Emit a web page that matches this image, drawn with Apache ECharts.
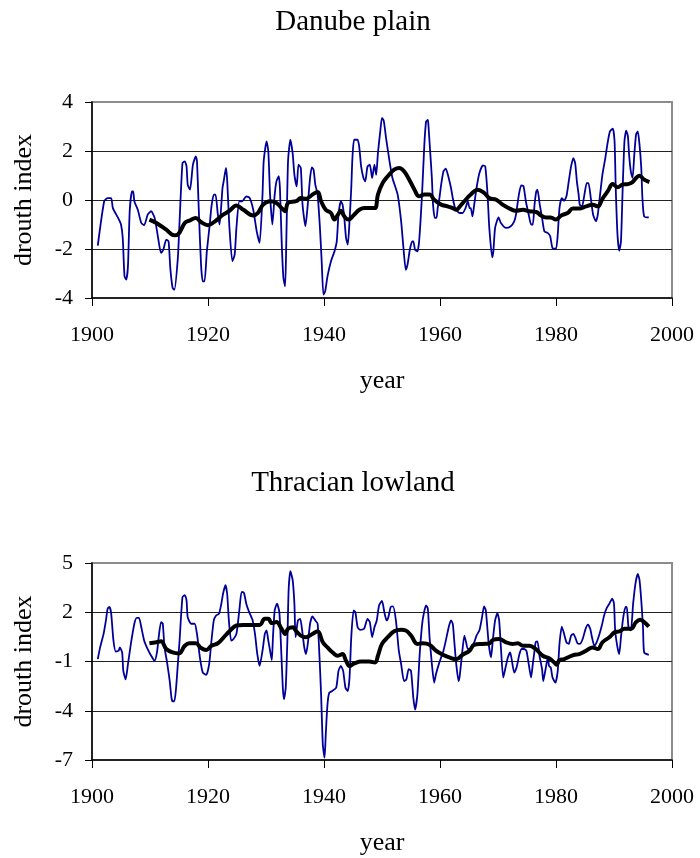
<!DOCTYPE html>
<html lang="en">

<head>
    <meta charset="UTF-8">
    <title>Drouth index</title>
    <script src="https://cdn.jsdelivr.net/npm/echarts@6/dist/echarts.min.js" charset="utf-8"></script>
    <style>
        body { margin: 0; background: #fff; }
    </style>
</head>

<body>

    <div id="main" style="width: 700px;height:858px;"></div>
    <script type="text/javascript">

        // axis ticks
        var yearTicks = [1900, 2000, 20];
        var danubeTicks = [-4, 4, 2];
        var thraceTicks = [-7, 5, 3];

        // Danube plain - drouth index (blue) and smoothed curve (black)
        var danubeIndex = [
            [1901.0,-1.86],[1902.1,-0.05],[1902.7,0.08],[1903.3,0.08],[1903.6,-0.33],[1904.5,-0.73],[1905.0,-1.0],[1905.3,-1.55],
            [1905.6,-3.1],[1905.9,-3.25],[1906.2,-2.7],[1906.5,-0.46],[1906.9,0.35],[1907.1,0.35],[1907.3,-0.05],[1907.9,-0.4],
            [1908.5,-0.94],[1909.0,-1.03],[1909.6,-0.6],[1910.2,-0.46],[1910.8,-0.73],[1911.4,-1.55],[1911.9,-2.16],[1912.3,-2.03],
            [1912.8,-1.62],[1913.2,-1.69],[1913.5,-2.78],[1913.9,-3.59],[1914.2,-3.66],[1914.8,-2.37],[1915.1,-0.87],[1915.6,1.51],
            [1916.0,1.58],[1916.3,1.37],[1916.5,0.63],[1916.9,0.42],[1917.4,1.44],[1917.9,1.78],[1918.1,1.58],[1918.4,-0.33],
            [1918.8,-2.64],[1919.1,-3.32],[1919.4,-3.32],[1919.8,-2.1],[1920.3,-1.0],[1920.6,-0.26],[1921.0,0.22],[1921.3,0.22],
            [1921.7,-0.6],[1922.0,-1.0],[1922.5,0.49],[1922.7,0.76],[1923.1,1.31],[1923.3,0.83],[1923.7,-1.14],[1924.2,-2.5],
            [1924.6,-2.23],[1924.9,-1.14],[1925.4,-0.05],[1925.9,-0.05],[1926.6,0.15],[1927.2,0.08],[1927.8,-0.4],[1928.4,-1.28],
            [1928.9,-1.75],[1929.4,0.22],[1929.6,1.58],[1930.1,2.39],[1930.4,1.99],[1930.7,0.22],[1931.1,-1.0],[1931.5,0.22],
            [1931.8,0.76],[1932.2,0.97],[1932.4,0.49],[1932.7,-1.69],[1933.0,-3.18],[1933.3,-3.52],[1933.5,-1.69],[1933.8,1.58],
            [1934.2,2.46],[1934.6,1.9],[1934.9,1.03],[1935.3,0.56],[1935.6,1.44],[1936.0,1.31],[1936.3,-0.19],[1936.8,-1.07],
            [1937.2,-0.19],[1937.6,0.9],[1937.9,1.33],[1938.2,1.24],[1938.5,0.63],[1938.9,0.22],[1939.3,-1.14],[1939.6,-2.5],
            [1939.9,-3.86],[1940.2,-3.73],[1940.6,-3.12],[1941.2,-2.5],[1941.8,-2.1],[1942.2,-1.69],[1942.5,-0.6],[1942.9,-0.05],
            [1943.2,-0.19],[1943.5,-0.73],[1943.8,-1.55],[1944.1,-1.82],[1944.4,-0.87],[1944.7,0.49],[1944.9,1.71],[1945.2,2.46],
            [1945.8,2.46],[1946.1,2.12],[1946.4,1.37],[1946.8,0.9],[1947.1,0.76],[1947.5,1.37],[1947.9,1.44],[1948.3,0.9],
            [1948.7,1.44],[1949.0,1.03],[1949.3,1.92],[1949.7,2.8],[1950.0,3.35],[1950.3,3.24],[1950.7,2.53],[1951.3,1.58],
            [1951.8,0.9],[1952.7,0.22],[1953.3,-0.87],[1953.7,-1.96],[1954.1,-2.85],[1954.4,-2.64],[1954.8,-2.03],[1955.2,-1.69],
            [1955.4,-1.69],[1955.7,-2.03],[1956.1,-2.1],[1956.4,-1.69],[1956.9,0.22],[1957.3,2.26],[1957.6,3.2],[1957.9,3.27],
            [1958.0,3.07],[1958.3,1.99],[1958.6,0.9],[1958.8,-0.19],[1959.1,-0.73],[1959.4,-0.73],[1959.6,-0.33],[1959.9,0.08],
            [1960.2,0.63],[1960.6,1.17],[1961.0,1.28],[1961.5,0.9],[1961.9,0.49],[1962.2,0.08],[1962.6,-0.33],[1963.0,-0.46],
            [1963.4,-0.53],[1963.9,-0.53],[1964.4,-0.33],[1964.8,-0.05],[1965.1,-0.33],[1965.3,-0.33],[1965.6,-0.67],[1965.9,-0.19],
            [1966.3,0.49],[1966.8,1.1],[1967.4,1.41],[1967.8,1.37],[1968.2,0.22],[1968.5,-1.14],[1969.0,-2.34],[1969.2,-2.1],
            [1969.5,-1.14],[1970.1,-0.71],[1970.5,-0.94],[1971.4,-1.14],[1972.2,-1.07],[1972.8,-0.87],[1973.1,-0.6],[1973.6,0.22],
            [1974.0,0.6],[1974.4,0.56],[1974.8,-0.05],[1975.3,-0.6],[1975.7,-1.0],[1976.0,-1.0],[1976.3,-0.19],[1976.6,0.35],
            [1976.8,0.42],[1977.2,-0.19],[1977.6,-0.73],[1978.0,-1.28],[1978.6,-1.35],[1979.0,-1.48],[1979.4,-1.96],[1980.0,-1.99],
            [1980.3,-1.41],[1980.6,-0.33],[1981.0,0.08],[1981.4,-0.03],[1981.8,0.15],[1982.2,0.76],[1982.6,1.37],[1983.0,1.71],
            [1983.3,1.51],[1983.6,0.76],[1983.9,0.22],[1984.1,-0.19],[1984.5,-0.26],[1984.9,0.22],[1985.3,0.69],[1985.6,0.69],
            [1986.0,0.08],[1986.4,-0.6],[1986.9,-0.87],[1987.2,-0.6],[1987.6,0.22],[1988.0,1.03],[1988.5,1.71],[1988.9,2.33],
            [1989.3,2.8],[1989.8,2.91],[1990.1,2.39],[1990.3,0.49],[1990.6,-1.41],[1990.9,-2.07],[1991.2,-1.69],[1991.5,0.49],
            [1991.8,2.39],[1992.1,2.83],[1992.4,2.6],[1992.6,1.85],[1992.9,1.17],[1993.2,0.9],[1993.5,1.85],[1993.8,2.67],
            [1994.1,2.8],[1994.4,2.26],[1994.7,1.31],[1994.9,0.08],[1995.2,-0.67],[1996.0,-0.71]
        ];
        var danubeSmooth = [
            [1909.9,-0.8],[1911.1,-0.94],[1912.8,-1.21],[1914.2,-1.44],[1914.8,-1.41],[1916.0,-0.94],[1916.8,-0.84],[1917.9,-0.73],
            [1918.8,-0.9],[1920.0,-1.03],[1921.2,-0.87],[1922.6,-0.6],[1923.7,-0.44],[1924.9,-0.22],[1926.1,-0.4],[1927.8,-0.63],
            [1928.6,-0.53],[1929.5,-0.19],[1930.7,-0.05],[1931.8,-0.12],[1932.7,-0.33],[1933.3,-0.46],[1933.8,-0.12],[1935.2,-0.05],
            [1936.0,0.08],[1936.9,0.05],[1938.0,0.22],[1938.9,0.33],[1939.5,-0.05],[1940.3,-0.4],[1941.2,-0.53],[1941.8,-0.8],
            [1942.4,-0.6],[1942.9,-0.44],[1943.5,-0.67],[1944.2,-0.8],[1945.2,-0.6],[1946.1,-0.4],[1947.0,-0.33],[1948.1,-0.33],
            [1948.8,-0.33],[1949.3,0.22],[1950.1,0.69],[1951.0,0.97],[1952.1,1.24],[1953.0,1.31],[1953.8,1.17],[1954.7,0.83],
            [1955.6,0.42],[1956.4,0.15],[1957.3,0.22],[1958.2,0.22],[1959.0,0.01],[1960.2,-0.19],[1961.3,-0.26],[1962.2,-0.33],
            [1962.8,-0.4],[1963.3,-0.3],[1964.2,-0.05],[1965.3,0.22],[1966.5,0.42],[1967.6,0.29],[1968.5,0.08],[1969.7,0.01],
            [1970.8,-0.19],[1972.0,-0.35],[1973.1,-0.44],[1974.3,-0.4],[1975.4,-0.46],[1976.6,-0.49],[1977.4,-0.63],[1978.3,-0.71],
            [1979.1,-0.71],[1980.0,-0.8],[1980.9,-0.63],[1982.0,-0.53],[1982.9,-0.35],[1984.0,-0.35],[1985.2,-0.26],[1986.3,-0.19],
            [1987.2,-0.26],[1988.0,0.05],[1988.9,0.35],[1989.8,0.65],[1990.6,0.52],[1991.5,0.63],[1992.4,0.65],[1993.2,0.73],
            [1993.8,0.9],[1994.4,0.99],[1995.2,0.83],[1996.1,0.73]
        ];

        // Thracian lowland
        var thraceIndex = [
            [1901.0,-0.86],[1901.4,-0.14],[1902.0,0.68],[1902.4,1.5],[1902.7,2.22],[1903.0,2.32],[1903.3,1.95],[1903.7,0.27],
            [1904.1,-0.39],[1904.6,-0.34],[1904.8,-0.14],[1905.2,-0.45],[1905.4,-1.57],[1905.8,-2.09],[1906.2,-1.16],[1906.7,0.07],
            [1907.3,1.3],[1907.7,1.66],[1908.1,1.66],[1908.5,1.09],[1909.0,0.27],[1909.6,-0.24],[1910.2,-0.65],[1910.8,-0.96],
            [1911.2,-0.45],[1911.5,0.48],[1911.9,1.4],[1912.2,1.3],[1912.5,-0.14],[1912.9,-0.96],[1913.4,-2.19],[1913.7,-3.21],
            [1913.9,-3.42],[1914.2,-3.42],[1914.5,-2.6],[1914.8,-1.16],[1915.1,0.27],[1915.6,2.93],[1916.0,3.04],[1916.3,2.73],
            [1916.5,1.7],[1917.1,1.3],[1917.7,1.3],[1918.1,0.68],[1918.6,-0.75],[1919.1,-1.68],[1919.7,-1.82],[1920.2,-1.16],
            [1920.6,0.27],[1921.0,1.5],[1921.4,1.8],[1921.9,1.91],[1922.3,2.52],[1922.6,3.14],[1923.0,3.65],[1923.3,3.14],
            [1923.6,1.5],[1924.0,0.27],[1924.4,0.37],[1924.9,0.68],[1925.4,2.11],[1925.8,3.24],[1926.2,3.18],[1926.6,2.52],
            [1927.1,2.01],[1927.7,1.5],[1928.1,0.68],[1928.5,-0.55],[1928.9,-1.27],[1929.4,-0.34],[1929.8,0.68],[1930.1,0.89],
            [1930.4,0.27],[1930.7,-0.34],[1931.0,-0.92],[1931.2,0.48],[1931.5,2.11],[1931.9,2.52],[1932.3,2.01],[1932.6,-0.14],
            [1932.9,-2.6],[1933.1,-3.31],[1933.4,-2.6],[1933.7,0.48],[1933.9,3.34],[1934.2,4.5],[1934.6,3.96],[1934.9,2.5],
            [1935.1,0.48],[1935.5,1.5],[1935.9,1.6],[1936.2,0.99],[1936.6,-0.14],[1936.9,-0.55],[1937.2,0.07],[1937.6,1.3],
            [1938.0,1.75],[1938.5,1.5],[1938.9,1.3],[1939.2,-0.55],[1939.5,-3.01],[1939.8,-6.08],[1940.1,-6.86],[1940.3,-5.47],
            [1940.6,-3.62],[1940.9,-2.91],[1941.4,-2.8],[1942.1,-2.6],[1942.5,-1.57],[1942.9,-1.27],[1943.3,-1.57],[1943.7,-2.6],
            [1944.1,-2.8],[1944.4,-1.98],[1944.7,0.48],[1945.1,2.11],[1945.4,2.01],[1945.8,1.09],[1946.2,0.93],[1946.9,0.99],
            [1947.5,1.6],[1947.9,1.4],[1948.3,0.48],[1948.7,1.09],[1949.1,1.5],[1949.5,2.42],[1950.0,2.69],[1950.4,2.01],
            [1950.8,1.5],[1951.1,1.7],[1951.5,2.32],[1951.9,2.36],[1952.4,1.5],[1952.9,-0.34],[1953.3,-1.16],[1953.8,-2.19],
            [1954.2,-2.09],[1954.6,-1.47],[1955.0,-1.57],[1955.4,-3.21],[1955.7,-3.93],[1956.1,-3.01],[1956.5,-0.55],[1957.0,1.5],
            [1957.6,2.42],[1957.9,2.22],[1958.2,0.48],[1958.6,-1.16],[1959.0,-2.29],[1959.3,-1.78],[1959.8,-1.16],[1960.2,-0.75],
            [1960.6,-0.34],[1961.0,0.27],[1961.5,1.09],[1961.9,1.5],[1962.2,1.3],[1962.5,0.07],[1962.8,-1.16],[1963.2,-2.19],
            [1963.4,-1.88],[1963.8,-0.55],[1964.2,0.58],[1964.5,0.17],[1964.8,-0.24],[1965.2,-0.24],[1965.5,-0.14],[1965.9,0.17],
            [1966.3,0.58],[1966.8,0.9],[1967.2,1.6],[1967.6,2.36],[1967.9,2.11],[1968.4,0.07],[1968.8,-0.75],[1969.1,0.27],
            [1969.5,1.5],[1969.9,1.95],[1970.2,1.5],[1970.5,-0.14],[1970.9,-1.98],[1971.3,-1.37],[1971.7,-0.75],[1972.1,-0.45],
            [1972.4,-0.96],[1972.8,-1.68],[1973.2,-1.37],[1973.7,-0.55],[1974.1,-0.24],[1974.5,-0.24],[1974.9,-0.34],[1975.3,-1.16],
            [1975.7,-1.98],[1976.0,-1.16],[1976.3,-0.34],[1976.5,0.17],[1976.8,0.23],[1977.2,-0.75],[1977.6,-1.47],[1977.8,-2.19],
            [1978.2,-1.47],[1978.6,-0.75],[1978.8,-1.27],[1979.1,-1.37],[1979.4,-1.98],[1979.9,-2.29],[1980.3,-1.57],[1980.6,0.07],
            [1981.0,1.13],[1981.4,0.68],[1981.8,0.17],[1982.2,0.07],[1982.6,0.58],[1983.0,0.68],[1983.3,0.48],[1983.7,0.11],
            [1984.1,0.07],[1984.6,0.37],[1985.1,0.99],[1985.5,1.25],[1985.9,0.99],[1986.2,0.48],[1986.6,-0.04],[1987.0,0.17],
            [1987.5,0.68],[1987.9,1.19],[1988.3,1.81],[1988.7,2.22],[1989.2,2.52],[1989.7,2.83],[1990.0,2.52],[1990.2,0.89],
            [1990.6,-0.14],[1990.9,-0.55],[1991.2,0.48],[1991.6,1.7],[1992.0,2.32],[1992.2,2.32],[1992.5,1.09],[1992.9,0.89],
            [1993.3,2.52],[1993.7,3.75],[1994.1,4.33],[1994.4,3.96],[1994.7,2.73],[1995.0,1.09],[1995.2,-0.45],[1996.0,-0.59]
        ];
        var thraceSmooth = [
            [1909.9,0.11],[1911.1,0.17],[1911.9,0.23],[1912.8,-0.24],[1913.9,-0.45],[1915.0,-0.51],[1916.0,-0.04],[1916.8,0.11],
            [1917.9,0.11],[1918.8,-0.18],[1919.7,-0.3],[1920.6,-0.04],[1921.7,0.11],[1922.6,0.43],[1923.7,0.84],[1924.9,1.19],
            [1926.1,1.23],[1927.8,1.23],[1928.9,1.23],[1929.8,1.6],[1930.4,1.6],[1931.0,1.34],[1931.8,1.4],[1932.7,0.99],
            [1933.3,0.68],[1933.8,0.99],[1934.7,1.09],[1935.1,0.89],[1936.0,0.58],[1936.9,0.48],[1938.0,0.68],[1938.9,0.84],
            [1939.8,0.17],[1940.6,-0.14],[1941.5,-0.45],[1942.4,-0.65],[1943.2,-0.55],[1943.8,-0.96],[1944.4,-1.27],[1945.2,-1.12],
            [1946.4,-1.0],[1947.8,-1.0],[1948.8,-1.06],[1949.3,-0.65],[1950.0,0.07],[1951.0,0.48],[1952.1,0.84],[1953.3,0.93],
            [1954.1,0.89],[1955.0,0.58],[1956.1,0.07],[1957.0,0.11],[1958.2,0.02],[1959.3,-0.34],[1960.5,-0.59],[1961.6,-0.75],
            [1962.8,-0.86],[1963.9,-0.59],[1965.1,-0.34],[1965.9,0.02],[1967.4,0.07],[1968.5,0.1],[1969.1,0.31],[1970.2,0.37],
            [1971.4,0.17],[1972.5,0.07],[1973.4,0.11],[1974.3,-0.04],[1975.4,-0.04],[1976.5,-0.24],[1977.7,-0.65],[1978.8,-0.8],
            [1979.7,-1.06],[1980.1,-1.2],[1980.6,-0.92],[1981.4,-0.86],[1982.3,-0.71],[1983.2,-0.59],[1984.0,-0.55],[1985.2,-0.34],
            [1986.3,-0.14],[1987.2,-0.24],[1988.0,0.17],[1989.2,0.48],[1990.1,0.78],[1990.9,0.84],[1991.8,0.99],[1992.9,0.99],
            [1993.8,1.4],[1994.5,1.54],[1995.2,1.4],[1996.0,1.13]
        ];

        var serif = '"Liberation Serif", "DejaVu Serif", serif';

        function xAxisFor(gridIndex) {
            return {
                type: 'value',
                gridIndex: gridIndex,
                min: yearTicks[0],
                max: yearTicks[1],
                interval: yearTicks[2],
                name: 'year',
                nameLocation: 'middle',
                nameGap: 70,
                nameTextStyle: {color: '#000', fontFamily: serif, fontSize: 26},
                axisLine: {onZero: false, lineStyle: {color: '#000', width: 1.5}},
                axisTick: {length: 8, lineStyle: {color: '#000'}},
                axisLabel: {
                    color: '#000', fontFamily: serif, fontSize: 22, margin: 26,
                    formatter: function (v) { return String(v); }
                },
                splitLine: {show: false}
            };
        }

        function yAxisFor(gridIndex, ticks) {
            return {
                type: 'value',
                gridIndex: gridIndex,
                min: ticks[0],
                max: ticks[1],
                interval: ticks[2],
                name: 'drouth index',
                nameLocation: 'middle',
                nameGap: 55,
                nameTextStyle: {color: '#000', fontFamily: serif, fontSize: 26},
                axisLine: {show: true, onZero: false, lineStyle: {color: '#000', width: 1.5}},
                axisTick: {show: true, length: 7, lineStyle: {color: '#000'}},
                axisLabel: {color: '#000', fontFamily: serif, fontSize: 22, margin: 19},
                splitLine: {show: true, showMinLine: false, showMaxLine: false, lineStyle: {color: '#222', width: 1}}
            };
        }

        function rawLine(i, data) {
            return {
                type: 'line', xAxisIndex: i, yAxisIndex: i, data: data,
                showSymbol: false, smooth: 0.2,
                lineStyle: {color: '#000099', width: 1.8}
            };
        }

        function smoothLine(i, data) {
            return {
                type: 'line', xAxisIndex: i, yAxisIndex: i, data: data,
                showSymbol: false, smooth: 0.4,
                lineStyle: {color: '#000', width: 4}
            };
        }

        var myChart = echarts.init(document.getElementById('main'));

        var option = {
            animation: false,
            backgroundColor: '#fff',
            graphic: [
                {type: 'text', x: 353, y: 22, style: {text: 'Danube plain', font: '29px ' + serif, fill: '#000', align: 'center', verticalAlign: 'middle'}},
                {type: 'text', x: 353, y: 483, style: {text: 'Thracian lowland', font: '29px ' + serif, fill: '#000', align: 'center', verticalAlign: 'middle'}}
            ],
            grid: [
                {left: 92, width: 580, top: 102, height: 196, show: true, borderColor: '#8c8c8c', borderWidth: 2},
                {left: 92, width: 580, top: 563, height: 197, show: true, borderColor: '#8c8c8c', borderWidth: 2}
            ],
            xAxis: [xAxisFor(0), xAxisFor(1)],
            yAxis: [yAxisFor(0, danubeTicks), yAxisFor(1, thraceTicks)],
            series: [
                rawLine(0, danubeIndex),
                smoothLine(0, danubeSmooth),
                rawLine(1, thraceIndex),
                smoothLine(1, thraceSmooth)
            ]
        };

        myChart.setOption(option);

    </script>
</body>
</html>
